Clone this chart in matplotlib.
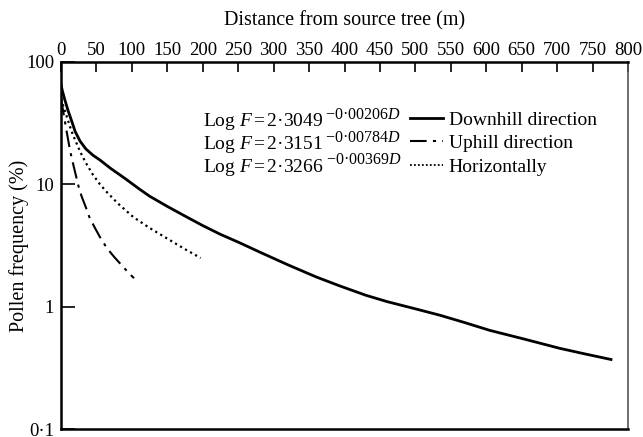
import matplotlib

matplotlib.use("Agg")
import matplotlib.pyplot as plt
from matplotlib.lines import Line2D
from matplotlib.ticker import FixedLocator, NullLocator

# Downhill direction (distance m, pollen frequency %)
down_d = [0, 2, 5, 10, 15, 20, 27, 35, 45, 55, 70, 90, 110, 125, 150, 175, 200,
          225, 252, 280, 320, 360, 393, 430, 460, 500, 535, 570, 605, 650, 704,
          740, 776]
down_f = [65, 58, 50, 40, 33, 27, 22.5, 19.5, 17.3, 15.8, 13.5, 11.2, 9.2, 8.0,
          6.6, 5.5, 4.6, 3.9, 3.33, 2.8, 2.2, 1.75, 1.48, 1.24, 1.1, 0.96, 0.85,
          0.74, 0.64, 0.55, 0.456, 0.41, 0.37]

# Uphill direction
up_d = [0, 2, 5, 8, 12, 15, 20, 25, 29, 35, 40, 47, 55, 65, 75, 85, 95, 103]
up_f = [50, 43, 34, 27, 20, 16.5, 12.5, 9.5, 8.0, 6.5, 5.4, 4.5, 3.7, 3.0,
        2.55, 2.2, 1.9, 1.71]

# Horizontally
hor_d = [0, 3, 8, 15, 20, 27, 35, 45, 55, 65, 80, 102, 125, 150, 175, 197]
hor_f = [50, 44, 36, 27, 23, 18.5, 15, 12, 10, 8.6, 7.0, 5.4, 4.4, 3.6, 2.95, 2.5]

x_ticks = list(range(0, 801, 50))
y_ticks = [0.1, 1, 10, 100]
y_labels = ["0·1", "1", "10", "100"]

eq_bases = [r"Log $F\,$=$\,$2·3049", r"Log $F\,$=$\,$2·3151", r"Log $F\,$=$\,$2·3266"]
eq_exps = ["−0·00206$D$", "−0·00784$D$", "−0·00369$D$"]
labels = ["Downhill direction", "Uphill direction", "Horizontally"]

plt.rcParams["font.family"] = ["Liberation Serif", "DejaVu Serif"]
plt.rcParams["mathtext.fontset"] = "custom"
plt.rcParams["mathtext.rm"] = "Liberation Serif"
plt.rcParams["mathtext.it"] = "Liberation Serif:italic"
plt.rcParams["font.size"] = 13

W, H = 643, 437
fig = plt.figure(figsize=(W / 100, H / 100), dpi=100)
ax = fig.add_axes([61 / W, 1 - 429 / H, (628 - 61) / W, (429 - 62) / H])

dashdot = (0, (8, 3, 1.5, 3))
dotted = (0, (1, 1.6))
ax.plot(down_d, down_f, color="black", linewidth=2.0)
ax.plot(up_d, up_f, color="black", linewidth=1.5, linestyle=dashdot)
ax.plot(hor_d, hor_f, color="black", linewidth=1.6, linestyle=dotted)

ax.set_yscale("log")
ax.set_xlim(0, 800)
ax.set_ylim(0.1, 100)

ax.xaxis.set_ticks_position("top")
ax.xaxis.set_label_position("top")
ax.set_xticks(x_ticks)
ax.set_xticklabels([str(t) for t in x_ticks])
ax.tick_params(axis="x", direction="in", length=7, width=1.2, pad=2, labelsize=13.5)

ax.yaxis.set_major_locator(FixedLocator(y_ticks))
ax.yaxis.set_minor_locator(NullLocator())
ax.set_yticklabels(y_labels)
ax.tick_params(axis="y", direction="in", length=10, width=1.2, pad=5, labelsize=13.5)

ax.set_xlabel("Distance from source tree (m)", fontsize=14.5, labelpad=12)
ax.set_ylabel("Pollen frequency (%)", fontsize=14.5)
ax.yaxis.set_label_coords((29 - 61) / 567, 0.5)

for side in ("top", "left", "bottom"):
    ax.spines[side].set_linewidth(1.8)
    ax.spines[side].set_color("black")
ax.spines["right"].set_linewidth(1.2)
ax.spines["right"].set_color("#555555")

handles = [
    Line2D([], [], color="black", linewidth=2.0),
    Line2D([], [], color="black", linewidth=1.5, linestyle=dashdot),
    Line2D([], [], color="black", linewidth=1.3, linestyle=(0, (1, 1.2))),
]
ax.legend(handles, labels, loc="upper left", bbox_to_anchor=(410 / W, 1 - 111 / H),
          bbox_transform=fig.transFigure, frameon=False, borderpad=0,
          borderaxespad=0, handlelength=1.7, handletextpad=0.3,
          labelspacing=0.3, fontsize=14)

# equations: base text plus a raised exponent placed right after it
fig.canvas.draw()
renderer = fig.canvas.get_renderer()
rows_y = [122, 145, 167]
for base, expo, ry in zip(eq_bases, eq_exps, rows_y):
    t = fig.text(203 / W, 1 - ry / H, base, ha="left", va="center", fontsize=14)
    bb = t.get_window_extent(renderer)
    fig.text((bb.x1 + 2) / W, 1 - (ry - 7) / H, expo, ha="left", va="center",
             fontsize=11.5)

fig.savefig("out.png", dpi=100)
